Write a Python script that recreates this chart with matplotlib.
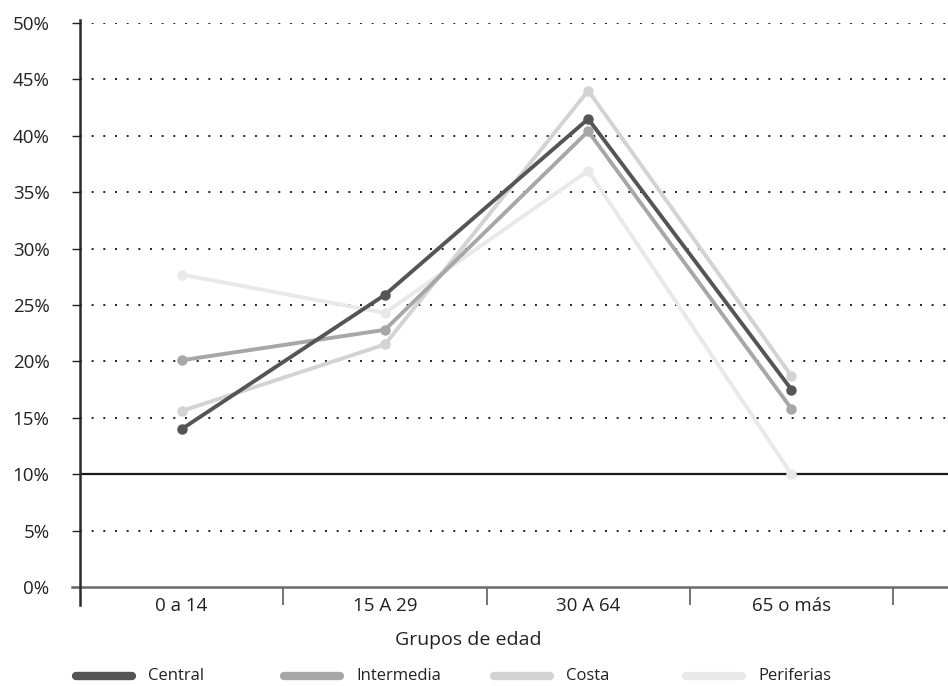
import matplotlib
matplotlib.use("Agg")
import matplotlib.pyplot as plt
from matplotlib.lines import Line2D
import matplotlib.transforms as mtransforms

plt.rcParams['font.family'] = ['Open Sans', 'DejaVu Sans']

categories = ["0 a 14", "15 A 29", "30 A 64", "65 o más"]
central = [14.0, 25.9, 41.5, 17.5]
intermedia = [20.1, 22.8, 40.4, 15.8]
costa = [15.6, 21.5, 44.0, 18.7]
periferias = [27.7, 24.3, 36.9, 10.0]
series_names = ["Central", "Intermedia", "Costa", "Periferias"]
series_values = [central, intermedia, costa, periferias]
series_colors = ["#555555", "#a7a7a7", "#d3d3d3", "#e9e9e9"]
y_ticks = list(range(0, 51, 5))
x_title = "Grupos de edad"

fig = plt.figure(figsize=(9.48, 6.86), dpi=100)
ax = fig.add_axes([80 / 948, 1 - 587 / 686, 1 - 80 / 948, (587 - 23) / 686])

xs = list(range(len(categories)))
# draw lightest series first so darker ones sit on top
for name, vals, col in reversed(list(zip(series_names, series_values, series_colors))):
    ax.plot(xs, vals, color=col, lw=2.8, marker='o', ms=6.5, mec=col, mfc=col,
            solid_capstyle='round', zorder=4)

ax.set_xlim(-0.5, 3.77)
ax.set_ylim(0, 50)

# dotted grid, with a solid reference line at 10%
for y in y_ticks[1:]:
    if y == 10:
        ax.axhline(y, color='#1a1a1a', lw=1.6, zorder=3)
    else:
        ax.axhline(y, color='#222222', lw=1.4, ls=(0, (1, 5)), zorder=1)

ax.set_yticks(y_ticks)
ax.set_yticklabels([f"{v}%" for v in y_ticks], fontsize=13.5, color='#222222')
ax.tick_params(axis='y', length=6, width=1.0, color='#222222', pad=16)

ax.set_xticks(xs)
ax.set_xticklabels(categories, fontsize=13.5, color='#222222')
ax.set_xticks([0.5, 1.5, 2.5, 3.5], minor=True)
ax.tick_params(axis='x', which='major', length=0, pad=7)
ax.tick_params(axis='x', which='minor', length=13, width=1.3, color='#6a6a6a')

for s in ['top', 'right', 'left']:
    ax.spines[s].set_visible(False)
ax.spines['bottom'].set_color('#6a6a6a')
ax.spines['bottom'].set_linewidth(1.8)
ax.spines['bottom'].set_bounds(-0.54, 3.77)

# vertical axis line, extended just below the baseline
trans = mtransforms.blended_transform_factory(ax.transData, ax.transAxes)
ax.add_line(Line2D([-0.5, -0.5], [-0.032, 1.005], transform=trans,
                   color='#2a2a2a', lw=1.8, clip_on=False, zorder=5))

ax.text(1.41, -0.078, x_title, transform=trans, ha='center', va='top',
        fontsize=14, color='#222222')

# legend row along the bottom
leg_x = [72, 280, 490, 682]
for x0, name, col in zip(leg_x, series_names, series_colors):
    yf = 1 - 676 / 686
    fig.add_artist(Line2D([(x0 + 4) / 948, (x0 + 60) / 948], [yf, yf],
                          transform=fig.transFigure, color=col, lw=6,
                          solid_capstyle='round'))
    fig.text((x0 + 76) / 948, yf, name, ha='left', va='center',
             fontsize=12, color='#222222')

fig.savefig("out.png", dpi=100)
